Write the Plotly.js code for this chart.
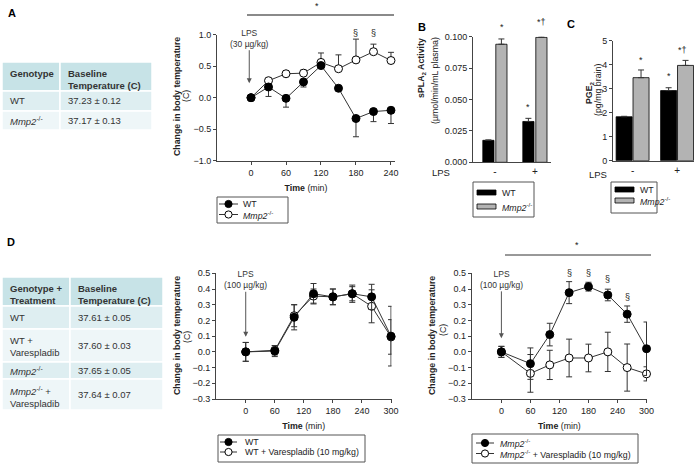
<!DOCTYPE html>
<html>
<head>
<meta charset="utf-8">
<script src="https://cdn.plot.ly/plotly-3.0.1.min.js"></script>
<style>
  html, body { margin: 0; padding: 0; background: #fff; }
  #chart { width: 694px; height: 471px; }
</style>
</head>
<body>
<div id="chart"></div>
<script>
// ------------------- Data -------------------
// Panel A: body temperature after LPS 30 ug/kg
var timeA = [0, 30, 60, 90, 120, 150, 180, 210, 240];
var wtA = [0, 0.17, -0.01, 0.25, 0.51, 0.15, -0.33, -0.22, -0.2];
var wtAErr = [0, 0.15, 0.14, 0.08, 0, 0, 0.29, 0.16, 0.21];
var mmpA = [0, 0.27, 0.38, 0.39, 0.56, 0.46, 0.60, 0.73, 0.59];
var mmpAErr = [0, 0, 0.04, 0.05, 0.15, 0.22, 0.33, 0.12, 0.13];

// Panels B and C: LPS - / +
var lpsCats = ['-', '+'];
var wtSpla2 = [0.0175, 0.0325];
var wtSpla2Err = [0.0003, 0.0025];
var mmpSpla2 = [0.094, 0.0995];
var mmpSpla2Err = [0.0042, 0.0005];
var wtPge2 = [1.83, 2.92];
var wtPge2Err = [0.02, 0.12];
var mmpPge2 = [3.46, 3.97];
var mmpPge2Err = [0.32, 0.21];

// Panel D: body temperature after LPS 100 ug/kg
var timeD = [0, 60, 100, 140, 180, 220, 260, 300];
var wtD = [0, 0.005, 0.22, 0.37, 0.35, 0.37, 0.35, 0.10];
var wtDErr = [0.06, 0.035, 0.08, 0.065, 0.05, 0.055, 0.08, 0.19];
var wtVarD = [0, 0.01, 0.23, 0.355, 0.35, 0.37, 0.29, 0.095];
var wtVarDErr = [0.06, 0.03, 0.07, 0.045, 0.05, 0.045, 0.105, 0.11];
var mmpD = [0, -0.075, 0.11, 0.377, 0.415, 0.362, 0.24, 0.02];
var mmpDErr = [0.035, 0.1, 0.072, 0.07, 0.028, 0.037, 0.052, 0.17];
var mmpVarD = [0, -0.137, -0.083, -0.039, -0.039, 0, -0.1, -0.14];
var mmpVarDErr = [0.035, 0.12, 0.093, 0.12, 0.088, 0.125, 0.15, 0.045];

// Tables
var tableAHeader = ['<b>Genotype</b>', '<b>Baseline<br>Temperature (C)</b>'];
var tableAGroup = ['WT', '<i>Mmp2</i><sup>-/-</sup>'];
var tableATemp = ['37.23 ± 0.12', '37.17 ± 0.13'];
var tableDHeader = ['<b>Genotype +<br>Treatment</b>', '<b>Baseline<br>Temperature (C)</b>'];
var tableDGroup = ['WT', 'WT +<br>Varespladib', '<i>Mmp2</i><sup>-/-</sup>', '<i>Mmp2</i><sup>-/-</sup> +<br>Varespladib'];
var tableDTemp = ['37.61 ± 0.05', '37.60 ± 0.03', '37.65 ± 0.05', '37.64 ± 0.07'];

var mmpName = '<i>Mmp2</i><sup>-/-</sup>';

// ------------------- Helpers -------------------
var W = 694, H = 471;
function px(x) { return x / W; }
function py(y) { return 1 - y / H; }

var FONT = 'Liberation Sans, Arial, sans-serif';
var INK = '#222';

var shapes = [];
var annotations = [];

function axisStyle(extra) {
    var base = {
        showline: true, linecolor: '#444', linewidth: 1,
        ticks: 'outside', ticklen: 3, tickcolor: '#444',
        tickfont: {size: 9, color: INK},
        showgrid: false, zeroline: false, fixedrange: true
    };
    return Object.assign(base, extra);
}

function lineTrace(x, y, err, name, filled, xa, ya, onlyDown, onlyUp) {
    var e = {type: 'data', array: err, color: '#333', thickness: 1, width: 3};
    if (onlyDown) { e.symmetric = false; e.array = err.map(function () { return 0; }); e.arrayminus = err; }
    if (onlyUp) { e.symmetric = false; e.arrayminus = err.map(function () { return 0; }); }
    return {
        x: x, y: y, name: name, type: 'scatter', mode: 'lines+markers',
        xaxis: xa, yaxis: ya, showlegend: false, cliponaxis: false,
        line: {color: '#333', width: 1},
        marker: {size: 8, color: filled ? '#000' : '#fff', line: {color: '#000', width: 1}},
        error_y: e
    };
}

function barTrace(y, err, name, color, offset, width, xa, ya) {
    return {
        x: [0, 1], y: y, name: name, type: 'bar', xaxis: xa, yaxis: ya, showlegend: false,
        offset: offset, width: width,
        marker: {color: color, line: {color: '#000', width: 0.8}},
        error_y: {type: 'data', symmetric: false, array: err,
                  arrayminus: err.map(function () { return 0; }),
                  color: '#333', thickness: 1, width: 3}
    };
}

function textNote(text, x, y, opts) {
    return Object.assign({text: text, x: px(x), y: py(y), xref: 'paper', yref: 'paper',
        xanchor: 'center', yanchor: 'middle', showarrow: false,
        font: {family: FONT, size: 8.8, color: INK}}, opts || {});
}

// table drawn as cell rectangles + text; cols / rows are pixel edges
function drawTable(cols, rows, header, col1, col2) {
    var body = [header].concat(col1.map(function (v, i) { return [v, col2[i]]; }));
    body.forEach(function (row, r) {
        var fill = r === 0 ? '#c7e3e7' : (r % 2 === 1 ? '#deeef1' : '#eef6f8');
        row.forEach(function (txt, c) {
            shapes.push({type: 'rect', xref: 'paper', yref: 'paper', layer: 'below',
                x0: px(cols[c]), x1: px(cols[c + 1]), y0: py(rows[r + 1]), y1: py(rows[r]),
                fillcolor: fill, line: {color: '#fff', width: 1.5}});
            var oneLine = txt.indexOf('<br>') < 0 && r > 0;
            annotations.push({text: txt, xref: 'paper', yref: 'paper', showarrow: false,
                x: px(cols[c] + 6), xanchor: 'left', align: 'left',
                y: oneLine ? py((rows[r] + rows[r + 1]) / 2) : py(rows[r] + 4),
                yanchor: oneLine ? 'middle' : 'top',
                font: {family: FONT, size: 9.5, color: '#333'}});
        });
    });
}

// legend box built from the traces it describes
function drawLegend(box, rowY, symX, textX, traces) {
    shapes.push({type: 'rect', xref: 'paper', yref: 'paper',
        x0: px(box[0]), x1: px(box[1]), y0: py(box[3]), y1: py(box[2]),
        line: {color: '#555', width: 1}, fillcolor: 'rgba(0,0,0,0)'});
    traces.forEach(function (t, i) {
        var y = rowY[i];
        if (t.type === 'bar') {
            shapes.push({type: 'rect', xref: 'paper', yref: 'paper',
                x0: px(symX[0]), x1: px(symX[1]), y0: py(y + 2.5), y1: py(y - 2.5),
                fillcolor: t.marker.color, line: {color: '#000', width: 0.8}});
        } else {
            shapes.push({type: 'line', xref: 'paper', yref: 'paper',
                x0: px(symX[0]), x1: px(symX[1]), y0: py(y), y1: py(y),
                line: {color: '#333', width: 1}});
            var cx = (symX[0] + symX[1]) / 2;
            shapes.push({type: 'circle', xref: 'paper', yref: 'paper',
                x0: px(cx - 3.6), x1: px(cx + 3.6), y0: py(y + 3.6), y1: py(y - 3.6),
                fillcolor: t.marker.color, line: {color: '#000', width: 1}});
        }
        annotations.push({text: t.name, xref: 'paper', yref: 'paper', showarrow: false,
            x: px(textX), y: py(y), xanchor: 'left', yanchor: 'middle',
            font: {family: FONT, size: 8.8, color: INK}});
    });
}

function lpsArrow(text, xa, ya, x, y, ay) {
    return {text: text, xref: xa, yref: ya, x: x, y: y, ax: 0, ay: ay,
            showarrow: true, arrowhead: 2, arrowsize: 1, arrowwidth: 1, arrowcolor: '#555',
            font: {family: FONT, size: 8.5, color: '#333'}};
}

// significance mark over a data x; y given in data units, or in pixels when yPix is set
function mark(text, xa, ya, x, y, yPix) {
    return {text: text, xref: xa, yref: yPix ? 'paper' : ya, x: x, y: yPix ? py(y) : y,
            xanchor: 'center', yanchor: 'middle',
            showarrow: false, font: {family: FONT, size: 9, color: INK}};
}

// ------------------- Traces -------------------
var wtATrace = lineTrace(timeA, wtA, wtAErr, 'WT', true, 'x', 'y', true, false);
var mmpATrace = lineTrace(timeA, mmpA, mmpAErr, mmpName, false, 'x', 'y', false, true);
var wtBTrace = barTrace(wtSpla2, wtSpla2Err, 'WT', '#000', -0.305, 0.28, 'x2', 'y2');
var mmpBTrace = barTrace(mmpSpla2, mmpSpla2Err, mmpName, '#b3b3b3', 0.02, 0.28, 'x2', 'y2');
var wtCTrace = barTrace(wtPge2, wtPge2Err, 'WT', '#000', -0.37, 0.36, 'x3', 'y3');
var mmpCTrace = barTrace(mmpPge2, mmpPge2Err, mmpName, '#b3b3b3', 0.01, 0.36, 'x3', 'y3');
var wtDTrace = lineTrace(timeD, wtD, wtDErr, 'WT', true, 'x4', 'y4');
var wtVarDTrace = lineTrace(timeD, wtVarD, wtVarDErr, 'WT + Varespladib (10 mg/kg)', false, 'x4', 'y4');
var mmpDTrace = lineTrace(timeD, mmpD, mmpDErr, mmpName, true, 'x5', 'y5');
var mmpVarDTrace = lineTrace(timeD, mmpVarD, mmpVarDErr, mmpName + ' + Varespladib (10 mg/kg)', false, 'x5', 'y5');

var data = [mmpATrace, wtATrace, wtBTrace, mmpBTrace, wtCTrace, mmpCTrace,
            wtVarDTrace, wtDTrace, mmpVarDTrace, mmpDTrace];

// ------------------- Tables, legends, notes -------------------
drawTable([2, 60, 152], [62, 91, 111, 130], tableAHeader, tableAGroup, tableATemp);
drawTable([2, 70, 163], [277, 306, 329, 362, 379, 410], tableDHeader, tableDGroup, tableDTemp);

drawLegend([217, 288, 197, 223], [204, 214.5], [219, 238], 241, [wtATrace, mmpATrace]);
drawLegend([473, 534, 182, 217], [192.5, 206.5], [477, 496], 500, [wtBTrace, mmpBTrace]);
drawLegend([611, 657, 182, 213], [189.5, 200.5], [615, 634], 638, [wtCTrace, mmpCTrace]);
drawLegend([218, 365, 435, 462], [442, 452], [220, 237], 243, [wtDTrace, wtVarDTrace]);
drawLegend([472, 638, 434, 463], [443, 453.5], [476, 494], 498, [mmpDTrace, mmpVarDTrace]);

shapes.push(
    {type: 'line', xref: 'paper', yref: 'paper', x0: px(247), x1: px(394), y0: py(15), y1: py(15),
     line: {color: '#8a8a8a', width: 2}},
    {type: 'line', xref: 'paper', yref: 'paper', x0: px(505), x1: px(651), y0: py(255), y1: py(255),
     line: {color: '#333', width: 1}}
);

var letterFont = {family: FONT, size: 11, color: '#000'};
annotations.push(
    // panel letters
    textNote('<b>A</b>', 12, 13, {font: letterFont}),
    textNote('<b>B</b>', 422, 27, {font: letterFont}),
    textNote('<b>C</b>', 571, 24, {font: letterFont}),
    textNote('<b>D</b>', 11, 242, {font: letterFont}),

    // y axis titles
    textNote('<b>Change in body temperature</b>', 177, 96, {textangle: -90}),
    textNote('(C)', 186, 96, {textangle: -90}),
    textNote('<b>sPLA<sub>2</sub> Activity</b>', 422, 68, {textangle: -90}),
    textNote('(µmol/min/mL plasma)', 435, 81, {textangle: -90}),
    textNote('<b>PGE<sub>2</sub></b>', 590, 93, {textangle: -90}),
    textNote('(pg/mg brain)', 598, 90, {textangle: -90}),
    textNote('<b>Change in body temperature</b>', 177, 335, {textangle: -90}),
    textNote('(C)', 187, 337, {textangle: -90}),
    textNote('<b>Change in body temperature</b>', 432, 336, {textangle: -90}),
    textNote('(C)', 443, 330, {textangle: -90}),

    // LPS labels under bars
    textNote('LPS', 441, 173, {font: {family: FONT, size: 9.5, color: INK}}),
    textNote('LPS', 598, 175, {font: {family: FONT, size: 9.5, color: INK}}),

    // LPS arrows
    lpsArrow('LPS<br>(30 µg/kg)', 'x', 'y', -3, 0.23, -45),
    lpsArrow('LPS<br>(100 µg/kg)', 'x4', 'y4', 0, 0.096, -57),
    lpsArrow('LPS<br>(100 µg/kg)', 'x5', 'y5', 0, 0.086, -59),

    // significance marks
    textNote('*', 317, 6, {font: {family: FONT, size: 9, color: INK}}),
    mark('§', 'x', 'y', 180, 33, true),
    mark('§', 'x', 'y', 210, 33, true),
    mark('*', 'x2', 'y2', 0.165, 27, true),
    mark('*', 'x2', 'y2', 0.835, 0.0443),
    mark('*†', 'x2', 'y2', 1.16, 22, true),
    mark('*', 'x3', 'y3', 0.19, 4.2),
    mark('*', 'x3', 'y3', 0.81, 3.53),
    mark('*†', 'x3', 'y3', 1.12, 4.61),
    textNote('*', 577, 245, {font: {family: FONT, size: 9, color: INK}}),
    mark('§', 'x5', 'y5', 140, 0.5),
    mark('§', 'x5', 'y5', 180, 0.5),
    mark('§', 'x5', 'y5', 220, 0.462),
    mark('§', 'x5', 'y5', 260, 0.351)
);

// ------------------- Layout -------------------
var timeTicks = [0, 60, 120, 180, 240, 300];
var timeTitle = {text: '<b>Time</b> (min)', font: {size: 8.8}, standoff: 8};

var layout = {
    width: W, height: H,
    margin: {l: 0, r: 0, t: 0, b: 0},
    paper_bgcolor: '#fff', plot_bgcolor: 'rgba(0,0,0,0)',
    font: {family: FONT, color: INK},
    showlegend: false,
    barmode: 'overlay',

    xaxis: axisStyle({domain: [px(217), px(395)], range: [-58.3, 246.9], anchor: 'y',
        tickvals: timeTicks, title: timeTitle}),
    yaxis: axisStyle({domain: [py(160.7), py(34.7)], range: [-1, 1], dtick: 0.5, tickformat: '.1f', anchor: 'x'}),

    xaxis2: axisStyle({domain: [px(473), px(551)], range: [-0.55, 1.4], anchor: 'y2',
        tickvals: [0, 1], ticktext: lpsCats, ticks: '', tickfont: {size: 10, color: INK}}),
    yaxis2: axisStyle({domain: [py(162.3), py(36.7)], range: [0, 0.1], dtick: 0.025, tickformat: '.3f', anchor: 'x2'}),

    xaxis3: axisStyle({domain: [px(613), px(694)], range: [-0.44, 1.38], anchor: 'y3',
        tickvals: [0, 1], ticktext: lpsCats, ticks: '', tickfont: {size: 10, color: INK}}),
    yaxis3: axisStyle({domain: [py(160.7), py(40.7)], range: [0, 5], dtick: 1, anchor: 'x3'}),

    xaxis4: axisStyle({domain: [px(216), px(391.5)], range: [-61.4, 301], anchor: 'y4',
        tickvals: timeTicks, title: timeTitle}),
    yaxis4: axisStyle({domain: [py(399), py(273.3)], range: [-0.3, 0.5], dtick: 0.1, tickformat: '.1f', anchor: 'x4'}),

    xaxis5: axisStyle({domain: [px(471.7), px(647)], range: [-61.4, 301], anchor: 'y5',
        tickvals: timeTicks, title: timeTitle}),
    yaxis5: axisStyle({domain: [py(399), py(273.3)], range: [-0.3, 0.5], dtick: 0.1, tickformat: '.1f', anchor: 'x5'}),

    shapes: shapes,
    annotations: annotations
};

Plotly.newPlot('chart', data, layout, {displayModeBar: false, staticPlot: true});
</script>
</body>
</html>
